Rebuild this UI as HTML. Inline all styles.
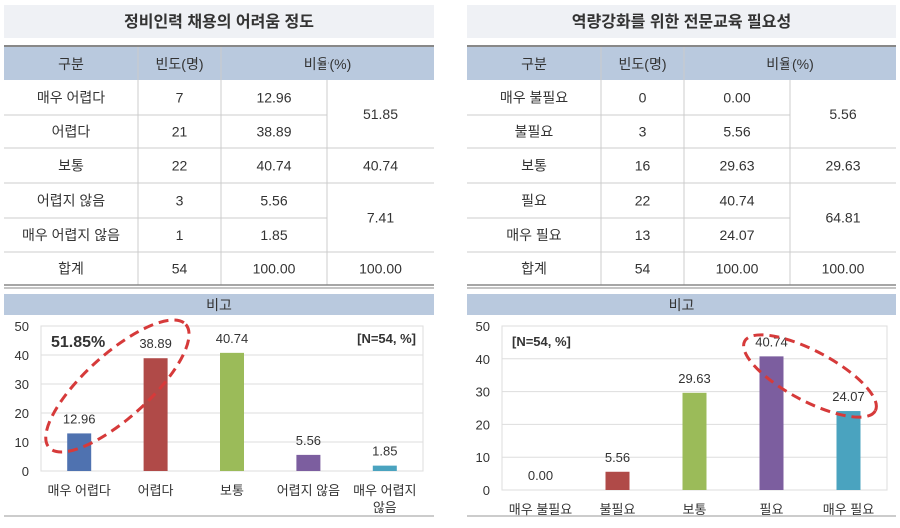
<!DOCTYPE html>
<html><head><meta charset="utf-8"><style>
body{margin:0;background:#fff;width:900px;height:523px;overflow:hidden}
svg text{font-family:"Liberation Sans","Noto Sans CJK KR",sans-serif;fill:#333}
</style></head><body>
<svg id="s" width="900" height="523" xmlns="http://www.w3.org/2000/svg"></svg>
<script>
const cats1=["매우 어렵다","어렵다","보통","어렵지 않음","매우 어렵지 않음"];
const vals1=[12.96,38.89,40.74,5.56,1.85];
const freq1=[7,21,22,3,1];
const cats2=["매우 불필요","불필요","보통","필요","매우 필요"];
const vals2=[0.00,5.56,29.63,40.74,24.07];
const freq2=[0,3,16,22,13];
const ticks=[0,10,20,30,40,50];
const colors=["#4f72b0","#b04a48","#9bbb59","#7c5e9f","#4aa3bf"];
const NS="http://www.w3.org/2000/svg",S=document.getElementById('s');
function el(t,a,p){const e=document.createElementNS(NS,t);for(const k in a)e.setAttribute(k,a[k]);(p||S).appendChild(e);return e;}
function tx(x,y,s,a,p){const e=el('text',Object.assign({x:x,y:y,'text-anchor':'middle','font-size':14},a||{}),p);e.textContent=s;return e;}

function panel(X0,W,title,cats,freq,vals,groups,id){
  const g=el('g',{});
  
  
  el('rect',{x:X0,y:5,width:W,height:33,fill:'#eff1f5'},g);
  const t=tx(X0+W/2,27,title,{'font-size':16,'font-weight':'bold',fill:'#222'},g);
  
  
  const cw=[134,83,106,W-323];
  const cx=[X0,X0+cw[0],X0+cw[0]+cw[1],X0+cw[0]+cw[1]+cw[2],X0+W];
  el('line',{x1:X0,x2:X0+W,y1:46,y2:46,stroke:'#888','stroke-width':2},g);
  el('rect',{x:X0,y:47,width:W,height:33,fill:'#b9c9de'},g);
  tx((cx[0]+cx[1])/2,69,'구분',{},g);tx((cx[1]+cx[2])/2,69,'빈도(명)',{},g);tx((cx[2]+cx[4])/2,69,'비율(%)',{},g);
  const ry=[80,115,148,183,218,252,285];
  for(let i=1;i<4;i++)el('line',{x1:cx[i],x2:cx[i],y1:47,y2:285,stroke:'#ccc'},g);
  el('line',{x1:cx[3],x2:cx[3],y1:47,y2:80,stroke:'#b9c9de','stroke-width':2},g);
  const rows=cats.concat(['합계']);
  const fr=freq.concat([freq.reduce((a,b)=>a+b,0)]);
  const pv=vals.map(v=>v.toFixed(2)).concat(['100.00']);
  for(let i=0;i<6;i++){
    const yc=(ry[i]+ry[i+1])/2+5;
    tx((cx[0]+cx[1])/2,yc,rows[i],{},g);tx((cx[1]+cx[2])/2,yc,fr[i],{},g);tx((cx[2]+cx[3])/2,yc,pv[i],{},g);
    if(i<5)el('line',{x1:X0,x2:cx[3],y1:ry[i+1],y2:ry[i+1],stroke:'#ccc'},g);
  }
  groups.forEach(([a,b])=>{
    const s=vals.slice(a,b+1).reduce((x,y)=>x+y,0);
    tx((cx[3]+cx[4])/2,(ry[a]+ry[b+1])/2+5,s.toFixed(2),{},g);
    el('line',{x1:cx[3],x2:cx[4],y1:ry[b+1],y2:ry[b+1],stroke:'#ccc'},g);
  });
  tx((cx[3]+cx[4])/2,(ry[5]+ry[6])/2+5,'100.00',{},g);
  el('line',{x1:X0,x2:X0+W,y1:285,y2:285,stroke:'#888','stroke-width':1.5},g);
  el('line',{x1:X0,x2:X0+W,y1:288,y2:288,stroke:'#888','stroke-width':1},g);
  el('rect',{x:X0,y:294,width:W,height:21,fill:'#b9c9de'},g);
  tx(X0+W/2,310,'비고',{},g);
  el('line',{x1:X0,x2:X0+W,y1:516,y2:516,stroke:'#999','stroke-width':1},g);
  return g;
}
function chart(px0,px1,py0,py1,cats,vals,id,wrapLast){
  const g=el('g',{});
  
  
  const y=v=>py0-(v/50)*(py0-py1);
  const bw=(px1-px0)/cats.length;
  const xc=i=>px0+bw*(i+0.5);
  ticks.forEach(t=>{
    el('line',{x1:px0,x2:px1,y1:y(t),y2:y(t),stroke:'#ddd'},g);
    const l=tx(px0-12,y(t)+5,t,{'text-anchor':'end','font-size':13,fill:'#666'},g);
    
    
  });
  el('rect',{x:px0,y:py1,width:px1-px0,height:py0-py1,fill:'none',stroke:'#ddd'},g);
  vals.forEach((v,i)=>{
    const b=el('rect',{x:xc(i)-12,y:y(v),width:24,height:py0-y(v),fill:colors[i]},g);
    
    
    const l=tx(xc(i),y(v)-10,v.toFixed(2),{'font-size':13,fill:'#555'},g);
    
    
    let c=cats[i];
    if(wrapLast&&i===cats.length-1){
      tx(xc(i),py0+24,'매우 어렵지',{'font-size':13,fill:'#555'},g);
      tx(xc(i),py0+41,'않음',{'font-size':13,fill:'#555'},g);
    } else {
      const xl=tx(xc(i),py0+24,c,{'font-size':13,fill:'#555'},g);
      
      
    }
  });
  return {g,xc,y};
}
panel(4,430,'정비인력 채용의 어려움 정도',cats1,freq1,vals1,[[0,1],[2,2],[3,4]],'left');
panel(467,429,'역량강화를 위한 전문교육 필요성',cats2,freq2,vals2,[[0,1],[2,2],[3,4]],'right');
const c1=chart(41,423,471,326,cats1,vals1,'left',true);
const c2=chart(502,887,490,326,cats2,vals2,'right',false);
const n1=tx(416,343,'[N=54, %]',{'text-anchor':'end','font-size':13,fill:'#333','font-weight':'bold'});

const n2=tx(512,346,'[N=54, %]',{'text-anchor':'start','font-size':13,fill:'#333','font-weight':'bold'});

const h=tx(51,347,(vals1[0]+vals1[1]).toFixed(2)+'%',{'text-anchor':'start','font-size':16,'font-weight':'bold',fill:'#111'});

const e1=el('ellipse',{cx:0,cy:0,rx:92,ry:32,fill:'none',stroke:'#d63a3a','stroke-width':3,'stroke-dasharray':'10 6',transform:'translate('+((c1.xc(0)+c1.xc(1))/2)+',386) rotate(-42)'});

const e2=el('ellipse',{cx:0,cy:0,rx:74,ry:25,fill:'none',stroke:'#d63a3a','stroke-width':3,'stroke-dasharray':'10 6',transform:'translate('+((c2.xc(3)+c2.xc(4))/2)+',376) rotate(28)'});

</script>
</body></html>
